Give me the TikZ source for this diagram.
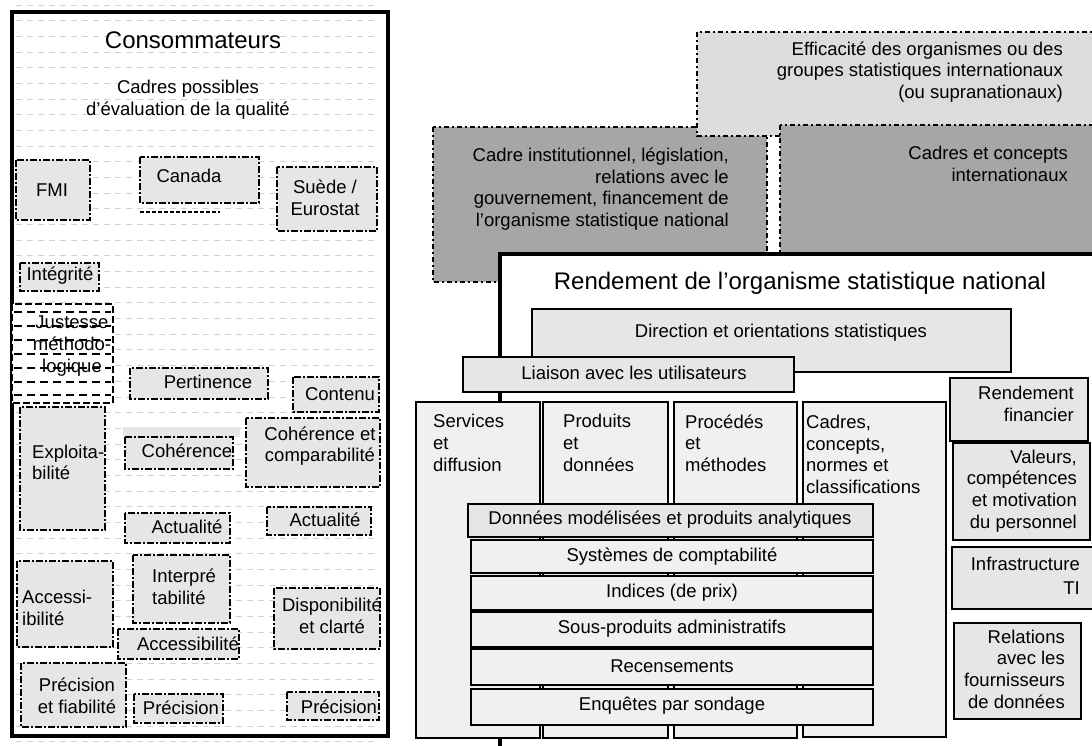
\documentclass[tikz,border=0pt]{standalone}
\usepackage{fontspec}
\setmainfont{Liberation Sans}
\definecolor{lightfill}{HTML}{E6E6E6}
\definecolor{colfill}{HTML}{F0F0F0}
\definecolor{darkfill}{HTML}{A6A6A6}
\definecolor{dotfill}{HTML}{DCDCDC}
\definecolor{bglinecol}{HTML}{D2D2D2}
\begin{document}
\begin{tikzpicture}[x=1pt,y=-1pt,
  txt/.style={inner sep=0pt, font=\fontsize{18.5}{21.7}\selectfont},
  bigtxt/.style={inner sep=0pt, font=\fontsize{24}{28}\selectfont},
  bgline/.style={draw=bglinecol, line width=1pt, dash pattern=on 6pt off 5pt},
  lbox/.style={draw=black, line width=1.8pt, fill=lightfill, dash pattern=on 7pt off 2pt on 2pt off 2pt},
  jbox/.style={draw=black, line width=2.2pt, fill=white, dash pattern=on 7pt off 3pt},
  jline/.style={draw=black, line width=1.6pt, dash pattern=on 8pt off 5pt},
  effbox/.style={draw=black, line width=1.4pt, fill=dotfill, dash pattern=on 5pt off 3pt on 2pt off 3pt},
  graybox/.style={draw=black, line width=1.4pt, fill=darkfill, dash pattern=on 5pt off 3pt on 2pt off 3pt},
  rbox/.style={draw=black, line width=2pt, fill=lightfill},
  colbox/.style={draw=black, line width=2pt, fill=colfill},
  barbox/.style={draw=black, line width=2.6pt, fill=colfill},
  mainbox/.style={draw=black, line width=4pt, fill=white}]
\useasboundingbox (0,0) rectangle (1092,745);
\clip (0,0) rectangle (1092,745);

% ---------------- Left panel ----------------
\foreach \k in {0,...,47} \draw[bgline] (16,{5+15.68*\k}) -- (378,{5+15.68*\k});
\draw[line width=3.5pt] (12,12) rectangle (388,736);

\node[bigtxt] (cons) at (193,40) {Consommateurs};
\node[txt, align=center] (cadposs) at (188,100) {Cadres possibles\\d’évaluation de la qualité};

\draw[lbox] (16,160) rectangle (90,220);
\node[txt] (fmi) at (52,190) {FMI};
\draw[lbox] (140,157) rectangle (259,203);
\draw[black, line width=1.8pt, dash pattern=on 4pt off 2pt] (140,212) -- (220,212);
\node[txt] (canada) at (189,176) {Canada};
\draw[lbox] (277,167) rectangle (377,231);
\node[txt, align=center] (suede) at (325,198) {Suède /\\Eurostat};

\draw[lbox] (20,263) rectangle (99,291);
\node[txt] (integ) at (60,276) {Intégrité};

\draw[jbox] (12,304) rectangle (113,403);
\foreach \yy in {312,326,340,354,368,382,395} \draw[jline] (14,\yy) -- (111,\yy);
\node[txt, align=center] (justesse) at (72,346) {Justesse\\méthodo-\\logique};

\draw[lbox] (130,368) rectangle (268,399);
\node[txt] (pert) at (208,382) {Pertinence};
\draw[lbox] (293,377) rectangle (379,412);
\node[txt] (contenu) at (340,394) {Contenu};

\draw[lbox] (20,407) rectangle (105,530);
\node[txt, align=left, anchor=west] (exploit) at (32,462.5) {Exploita-\\bilité};
\fill[lightfill] (123,427) rectangle (240,437);
\draw[lbox] (125,437) rectangle (233,469);
\node[txt] (coher) at (187,451) {Cohérence};
\draw[lbox] (246,418) rectangle (380,487);
\node[txt, align=center] (cohcomp) at (320,446) {Cohérence et\\comparabilité};

\draw[lbox] (125,513) rectangle (230,543);
\node[txt] (actu1) at (187,527) {Actualité};
\draw[lbox] (267,507) rectangle (371,535);
\node[txt] (actu2) at (325,520) {Actualité};

\draw[lbox] (17,561) rectangle (113,647);
\node[txt, align=left, anchor=west] (access1) at (22,608) {Accessi-\\ibilité};
\draw[lbox] (133,555) rectangle (230,623);
\node[txt, align=left, anchor=west] (interp) at (152,587) {Interpré\\tabilité};
\draw[lbox] (274,588) rectangle (380,649);
\node[txt, align=center] (dispo) at (332,616) {Disponibilité\\et clarté};
\draw[lbox] (118,629) rectangle (239,659);
\node[txt] (access2) at (188,644) {Accessibilité};

\draw[lbox] (21,663) rectangle (126,727);
\node[txt, align=center] (precfia) at (77,696) {Précision\\et fiabilité};
\draw[lbox] (134,694) rectangle (223,723);
\node[txt] (prec1) at (181,708) {Précision};
\draw[lbox] (287,692) rectangle (379,720);
\node[txt] (prec2) at (339,707) {Précision};

% ---------------- Right panel ----------------
\draw[graybox] (433,127) rectangle (767,282);
\node[txt, align=right, anchor=east] (cadinst) at (729,189) {Cadre institutionnel, législation,\\relations avec le\\gouvernement, financement de\\l’organisme statistique national};
\draw[effbox] (697,32) rectangle (1100,136);
\node[txt, align=right, anchor=east] (effic) at (1063,72) {Efficacité des organismes ou des\\groupes statistiques internationaux\\(ou supranationaux)};
\draw[graybox] (780,125) rectangle (1100,300);
\node[txt, align=right, anchor=east] (cadconc) at (1068,164) {Cadres et concepts\\internationaux};

\draw[mainbox] (500,254) rectangle (1100,800);
\node[bigtxt] (rend) at (800,283) {Rendement de l’organisme statistique national};

\draw[rbox] (532,309) rectangle (1011,372);
\node[txt] (direction) at (781,333) {Direction et orientations statistiques};
\draw[rbox] (463,357) rectangle (794,392);
\node[txt] (liaison) at (634,373) {Liaison avec les utilisateurs};

\draw[colbox] (416,402) rectangle (540,738);
\node[txt, align=left, anchor=west] (serv) at (433,443) {Services\\et\\diffusion};
\draw[colbox] (543,402) rectangle (668,738);
\node[txt, align=left, anchor=west] (prod) at (563,443) {Produits\\et\\données};
\draw[colbox] (674,402) rectangle (797,738);
\node[txt, align=left, anchor=west] (proc) at (685,443) {Procédés\\et\\méthodes};
\draw[colbox] (803,402) rectangle (946,737);
\node[txt, align=left, anchor=west] (cadnorm) at (806,454.5) {Cadres,\\concepts,\\normes et\\classifications};

\draw[rbox] (468,504) rectangle (873,537);
\node[txt] (donnees) at (670,520) {Données modélisées et produits analytiques};
\draw[barbox] (471,540) rectangle (873,573);
\node[txt] (systemes) at (672,557) {Systèmes de comptabilité};
\draw[barbox] (471,576) rectangle (873,610);
\node[txt] (indices) at (672,593) {Indices (de prix)};
\draw[barbox] (471,612) rectangle (873,647);
\node[txt] (sousprod) at (672,629) {Sous-produits administratifs};
\draw[barbox] (471,649) rectangle (873,685);
\node[txt] (recens) at (672,666) {Recensements};
\draw[barbox] (471,689) rectangle (873,725);
\node[txt] (enquetes) at (672,706) {Enquêtes par sondage};

\draw[rbox] (950,378) rectangle (1088,441);
\node[txt, align=right, anchor=east] (rendfin) at (1074,404) {Rendement\\financier};
\draw[rbox] (953,443) rectangle (1090,540);
\node[txt, align=right, anchor=east] (valeurs) at (1077,491) {Valeurs,\\compétences\\et motivation\\du personnel};
\draw[rbox] (952,547) rectangle (1100,609);
\node[txt, align=right, anchor=east, font=\fontsize{18.5}{24}\selectfont] (infra) at (1080,576) {Infrastructure\\TI};
\draw[rbox] (954,623) rectangle (1081,719);
\node[txt, align=right, anchor=east] (relat) at (1065,669) {Relations\\avec les\\fournisseurs\\de données};
\end{tikzpicture}
\end{document}
